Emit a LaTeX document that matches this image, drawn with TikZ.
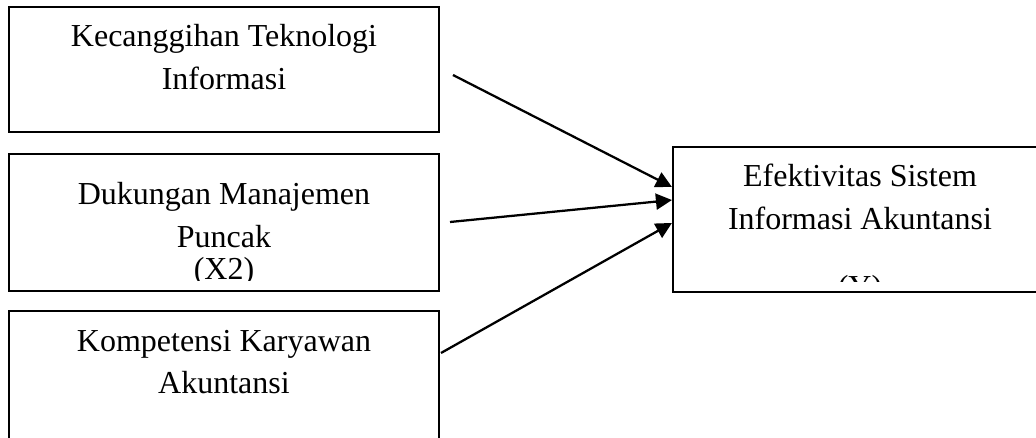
\documentclass[tikz,border=0pt]{standalone}
\usepackage{fontspec}
\setmainfont{Liberation Serif}
\usetikzlibrary{arrows.meta,fit}
\begin{document}
\begin{tikzpicture}[x=0.75pt,y=-0.75pt,
  box/.style={draw=black,line width=1.6pt,inner sep=0pt,rectangle},
  lbl/.style={anchor=base,inner sep=0pt,font=\fontsize{24}{30}\selectfont},
  arr/.style={line width=1.7pt,-{Triangle[length=12pt,width=12pt]}}]
\clip (0,0) rectangle (1036,438);
\fill[white] (0,0) rectangle (1036,438);
% boxes
\node[box,fit={(9,7) (439,132)}] (b1) {};
\node[box,fit={(9,154) (439,291)}] (b2) {};
\node[box,fit={(9,311) (439,460)}] (b3) {};
\node[box,fit={(673,147) (1060,292)}] (e) {};
% texts
\node[lbl] (t11) at (224,47) {Kecanggihan Teknologi};
\node[lbl] (t12) at (224,90) {Informasi};
\node[lbl] (t21) at (224,205) {Dukungan Manajemen};
\node[lbl] (t22) at (224,248) {Puncak};
\begin{scope}
  \clip (10,150) rectangle (438,281);
  \node[lbl] (t23) at (224,280) {(X2)};
\end{scope}
\node[lbl] (t31) at (224,352) {Kompetensi Karyawan};
\node[lbl] (t32) at (224,393) {Akuntansi};
\node[lbl] (e1) at (860,187) {Efektivitas Sistem};
\node[lbl] (e2) at (860,230) {Informasi Akuntansi};
\begin{scope}
  \clip (674,150) rectangle (1036,282);
  \node[lbl] (e3) at (860,298) {(Y)};
\end{scope}
% connectors
\coordinate (s1) at (453,75);
\coordinate (s2) at (450,222);
\coordinate (s3) at (441,353);
\draw[arr] (s1) -- ([yshift=24.4pt]e.west);
\draw[arr] (s2) -- ([yshift=14.6pt]e.west);
\draw[arr] (s3) -- ([yshift=-2.6pt]e.west);
\end{tikzpicture}
\end{document}
